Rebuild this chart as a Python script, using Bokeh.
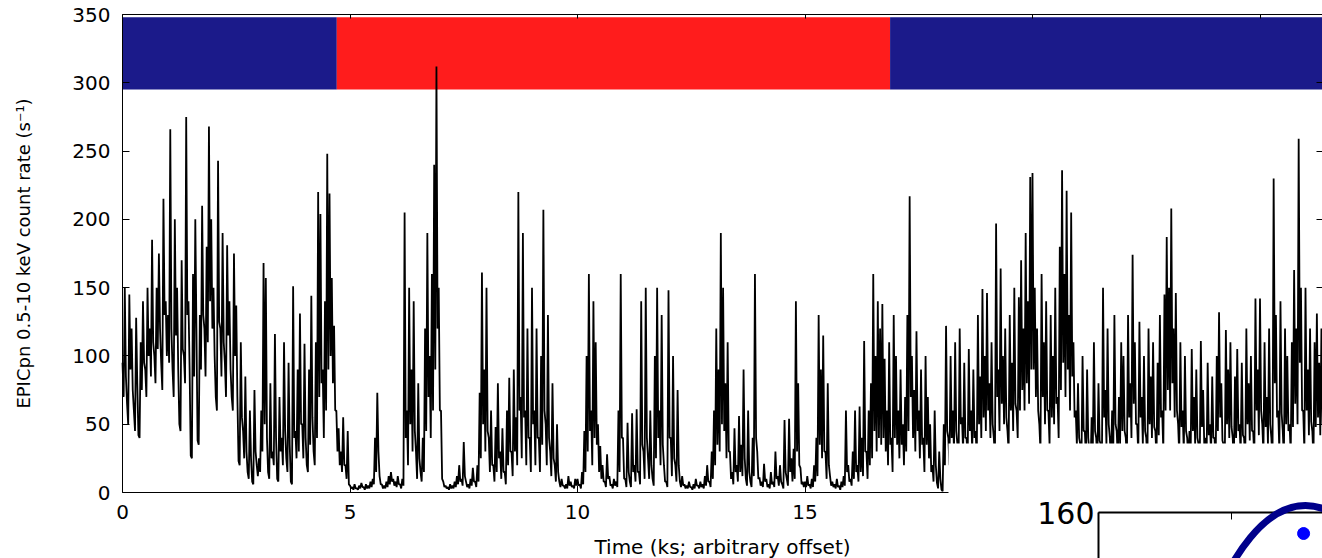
import math
import numpy as np
from bokeh.plotting import figure
from bokeh.models import LinearAxis, Range1d, FixedTicker
from bokeh.embed import file_html
from bokeh.resources import INLINE

# ---------------- data ----------------
BIN_KS = 0.05  # light-curve bin width (ks)

# highest count rate in each bin (s^-1)
rate_peak_00_05ks = [
    95, 150, 65, 145, 120, 60, 128, 42, 110, 140, 90, 150, 120, 185, 100, 150, 175, 95, 215, 140,
    130, 266, 90, 200, 150, 50, 170, 100, 275, 140, 27, 160, 200, 38, 130, 210, 120, 180, 268, 200,
    150, 70, 243, 120, 190, 95, 181, 140, 70, 175, 137, 23, 110, 45, 85, 15, 60, 8, 75, 20,
    25, 60, 168, 157, 15, 80, 30, 116, 10, 70, 40, 110, 25, 95, 8, 151, 45, 90, 131, 50,
    109, 20, 90, 144, 30, 110, 220, 204, 90, 140, 248, 219, 157, 122, 60, 47, 30, 55, 20, 45,
]
rate_peak_05_10ks = [
    5, 4, 6, 3, 5, 7, 4, 6, 5, 8, 10, 40, 73, 12, 6, 5, 8, 12, 15, 10,
    8, 12, 6, 10, 205, 60, 150, 90, 140, 30, 80, 15, 40, 120, 190, 100, 160, 240, 312, 150,
    60, 8, 5, 4, 6, 5, 8, 12, 20, 10, 37, 8, 6, 10, 18, 8, 20, 73, 161, 90,
    150, 40, 60, 20, 48, 80, 30, 47, 15, 60, 84, 30, 90, 55, 220, 70, 190, 60, 120, 40,
    150, 60, 120, 40, 100, 207, 50, 130, 30, 80, 20, 50, 8, 10, 5, 6, 12, 8, 5, 10,
]
rate_peak_10_15ks = [
    10, 6, 15, 45, 100, 160, 60, 140, 110, 50, 34, 20, 8, 28, 12, 6, 10, 8, 60, 160,
    40, 10, 51, 8, 58, 20, 61, 15, 140, 30, 150, 25, 60, 10, 100, 150, 60, 130, 20, 8,
    148, 40, 100, 20, 75, 8, 12, 6, 5, 8, 4, 6, 10, 5, 8, 6, 12, 20, 8, 30,
    60, 120, 90, 190, 150, 80, 110, 30, 15, 47, 20, 56, 35, 90, 10, 60, 8, 40, 160, 30,
    11, 8, 21, 10, 6, 15, 8, 30, 12, 20, 6, 53, 10, 54, 25, 32, 140, 80, 18, 8,
]
rate_peak_15_20ks = [
    8, 12, 6, 10, 20, 40, 130, 90, 115, 30, 80, 12, 8, 6, 10, 5, 8, 12, 60, 20,
    10, 30, 60, 20, 63, 40, 111, 30, 60, 80, 160, 100, 140, 120, 138, 98, 60, 110, 40, 130,
    100, 60, 90, 50, 70, 130, 217, 100, 75, 118, 60, 90, 40, 100, 70, 50, 20, 60, 7, 30,
    2, 50, 122, 40, 100, 60, 110, 35, 120, 55, 95, 40, 105, 60, 90, 45, 130, 85, 149, 100,
    146, 80, 110, 40, 197, 90, 164, 100, 120, 45, 130, 95, 150, 60, 143, 170, 120, 190, 140, 231,
]
rate_peak_20_25ks = [
    234, 150, 120, 50, 160, 110, 140, 60, 130, 100, 150, 70, 180, 236, 160, 221, 130, 205, 110, 60,
    80, 35, 100, 45, 90, 30, 55, 110, 40, 80, 35, 150, 75, 120, 40, 60, 130, 45, 70, 110,
    100, 40, 130, 80, 174, 110, 50, 125, 70, 100, 40, 120, 85, 110, 45, 95, 130, 60, 145, 187,
    150, 208, 120, 146, 50, 110, 60, 100, 40, 45, 105, 70, 90, 35, 111, 75, 40, 95, 50, 85,
    40, 100, 132, 80, 35, 119, 90, 110, 40, 85, 105, 50, 95, 40, 120, 80, 100, 45, 142, 90,
]
rate_peak_25_end = [
    142, 50, 110, 70, 120, 40, 230, 130, 60, 140, 45, 120, 100, 50, 110, 163, 120, 259, 150, 60,
    150, 90, 120, 45, 110, 131, 95, 120, 100, 130,
]

# lowest count rate in each bin (s^-1)
rate_min_00_05ks = [
    70, 85, 50, 90, 75, 45, 80, 40, 75, 95, 70, 100, 85, 110, 80, 105, 120, 75, 130, 100,
    95, 120, 70, 115, 90, 45, 105, 80, 130, 90, 25, 85, 120, 35, 90, 130, 85, 110, 140, 120,
    100, 60, 125, 85, 110, 70, 115, 90, 60, 100, 70, 20, 55, 25, 30, 10, 25, 6, 30, 12,
    15, 30, 50, 40, 10, 25, 20, 40, 8, 30, 20, 45, 15, 35, 6, 40, 25, 30, 50, 25,
    40, 15, 35, 55, 20, 40, 70, 80, 40, 60, 90, 100, 80, 60, 30, 20, 15, 20, 10, 6,
]
rate_min_05_10ks = [
    3, 2, 3, 2, 3, 4, 2, 3, 3, 4, 6, 15, 30, 6, 3, 3, 4, 6, 8, 5,
    4, 6, 3, 5, 40, 20, 50, 30, 45, 10, 25, 8, 15, 45, 70, 40, 60, 90, 120, 60,
    10, 4, 3, 2, 3, 3, 4, 6, 8, 5, 12, 4, 3, 5, 8, 4, 8, 25, 50, 30,
    45, 15, 20, 8, 15, 25, 10, 15, 6, 20, 30, 12, 30, 20, 60, 25, 55, 20, 40, 15,
    50, 20, 40, 15, 35, 60, 20, 40, 12, 25, 8, 15, 4, 5, 3, 3, 5, 4, 3, 5,
]
rate_min_10_15ks = [
    5, 3, 6, 15, 30, 45, 20, 40, 35, 15, 10, 8, 4, 10, 5, 3, 5, 4, 15, 40,
    10, 4, 15, 4, 15, 8, 15, 6, 35, 10, 40, 10, 20, 5, 25, 40, 20, 35, 8, 4,
    40, 12, 25, 8, 20, 4, 5, 3, 3, 4, 2, 3, 5, 3, 4, 3, 5, 8, 4, 10,
    20, 35, 30, 50, 45, 25, 30, 10, 6, 15, 8, 15, 12, 25, 5, 15, 4, 12, 40, 10,
    5, 4, 8, 4, 3, 6, 4, 10, 5, 8, 3, 15, 5, 15, 8, 10, 30, 20, 6, 4,
]
rate_min_15_20ks = [
    4, 5, 3, 4, 8, 12, 35, 25, 30, 10, 20, 5, 4, 3, 4, 2, 4, 5, 15, 8,
    5, 10, 15, 8, 15, 12, 30, 10, 20, 25, 45, 30, 40, 35, 40, 30, 20, 35, 15, 40,
    35, 25, 35, 20, 30, 45, 70, 40, 30, 45, 25, 35, 15, 35, 25, 15, 8, 20, 3, 10,
    1, 20, 45, 20, 40, 30, 45, 20, 50, 30, 40, 25, 45, 30, 40, 25, 50, 40, 55, 45,
    60, 40, 50, 25, 70, 45, 65, 50, 55, 30, 60, 45, 65, 40, 60, 75, 60, 80, 65, 90,
]
rate_min_20_25ks = [
    90, 70, 60, 30, 70, 50, 60, 35, 55, 50, 65, 40, 75, 95, 70, 90, 60, 85, 55, 35,
    40, 20, 45, 25, 40, 18, 30, 45, 22, 38, 20, 55, 35, 50, 22, 30, 50, 25, 35, 45,
    45, 25, 55, 40, 65, 50, 28, 55, 35, 45, 22, 50, 40, 48, 25, 42, 55, 30, 60, 75,
    60, 80, 55, 60, 28, 48, 30, 45, 22, 25, 45, 35, 40, 20, 48, 35, 22, 42, 28, 40,
    22, 45, 55, 38, 20, 50, 40, 48, 22, 40, 45, 28, 42, 22, 50, 38, 45, 25, 60, 42,
]
rate_min_25_end = [
    60, 28, 48, 35, 50, 22, 80, 55, 30, 58, 25, 50, 45, 28, 48, 65, 50, 95, 60, 30,
    60, 42, 52, 25, 48, 55, 42, 50, 45, 55,
]

# observation states shown as the bar across the top
state_start = [0.0, 4.71, 16.87]
state_end = [4.71, 16.87, 26.5]
state_colors = ["#1b1a8a", "#ff1c1c", "#1b1a8a"]

# inset: fragment of a second panel (best-fit point and confidence contour)
inset_yticks = [160]
inset_xticks = [0, 50, 100]
best_x = [77.1]
best_y = [152.1]
contour_x = [77.8]
contour_y = [-10.3]
contour_w = [112.8]
contour_h = [345.9]
contour_angle = [0.0]

rate_peak = (rate_peak_00_05ks + rate_peak_05_10ks + rate_peak_10_15ks +
             rate_peak_15_20ks + rate_peak_20_25ks + rate_peak_25_end)
rate_min = (rate_min_00_05ks + rate_min_05_10ks + rate_min_10_15ks +
            rate_min_15_20ks + rate_min_20_25ks + rate_min_25_end)

# each bin: its peak then its minimum, half a bin apart
t_bins = np.arange(len(rate_peak)) * BIN_KS
curve_t = np.column_stack([t_bins, t_bins + BIN_KS / 2]).ravel().tolist()
curve_r = np.column_stack([rate_peak, rate_min]).ravel().tolist()

# ---------------- layout geometry (picture pixels) ----------------
W, H = 1322, 558
X0_PX, PX_PER_KS = 122, 45.5          # time 0 and scale
Y0_PX, Y350_PX = 492, 14              # rate 0 and rate 350
PX_PER_RATE = (Y0_PX - Y350_PX) / 350.0
x_start = -X0_PX / PX_PER_KS
x_end = (W - X0_PX) / PX_PER_KS
y_end = 350 + Y350_PX / PX_PER_RATE
y_start = -(H - Y0_PX) / PX_PER_RATE
X_AXIS_END = (948 - X0_PX) / PX_PER_KS

# inset placement
INSET_PPU = 2.66
INSET_L_PX, INSET_T_PX = 1098, 512
INSET_X0, INSET_Y0 = 0.0, 160.0
ix_start = INSET_X0 - INSET_L_PX / INSET_PPU
ix_end = INSET_X0 + (W - INSET_L_PX) / INSET_PPU
iy_start = INSET_Y0 - (H - INSET_T_PX) / INSET_PPU
iy_end = INSET_Y0 + INSET_T_PX / INSET_PPU
box_left = INSET_X0 - (INSET_L_PX - 948) / INSET_PPU
box_top = INSET_Y0 + (INSET_T_PX - 443) / INSET_PPU

FONT = "DejaVu Sans"

p = figure(width=W, height=H, output_backend="svg", toolbar_location=None,
           x_range=Range1d(x_start, x_end), y_range=Range1d(y_start, y_end),
           x_axis_location=None, y_axis_location=None,
           min_border=0, min_border_left=0, min_border_right=0,
           min_border_top=0, min_border_bottom=0)
p.outline_line_color = None
p.grid.visible = False
p.background_fill_color = "white"
p.border_fill_color = "white"

p.extra_x_ranges = {"ix": Range1d(ix_start, ix_end)}
p.extra_y_ranges = {"iy": Range1d(iy_start, iy_end)}

# state bar
p.quad(left=state_start, right=state_end, bottom=295, top=348,
       fill_color=state_colors, line_color=None)

# light curve
p.line(curve_t, curve_r, line_color="black", line_width=1.8)

# inset background
p.quad(left=[box_left], right=[ix_end + 10], bottom=[iy_start - 10], top=[box_top],
       fill_color="white", line_color=None, x_range_name="ix", y_range_name="iy")

# inset content
p.ellipse(x=contour_x, y=contour_y, width=contour_w, height=contour_h, angle=contour_angle,
          fill_color=None, line_color="#00008b", line_width=7,
          x_range_name="ix", y_range_name="iy", level="annotation")
p.scatter(x=best_x, y=best_y, size=12, fill_color="#0000ff", line_color="#0000ff",
          x_range_name="ix", y_range_name="iy", level="annotation")


def style(ax, size="20px"):
    ax.major_label_text_font = FONT
    ax.major_label_text_font_size = size
    ax.major_label_text_color = "black"
    ax.axis_label_text_font = FONT
    ax.axis_label_text_font_style = "normal"
    ax.axis_label_text_font_size = "20px"
    ax.axis_label_text_color = "black"
    ax.axis_line_color = "black"
    ax.major_tick_line_color = "black"
    ax.minor_tick_line_color = None
    ax.major_tick_out = 0


# main left axis
yax = LinearAxis(ticker=FixedTicker(ticks=[0, 50, 100, 150, 200, 250, 300, 350]),
                 bounds=(0, 350), fixed_location=0,
                 axis_label="EPICpn 0.5-10 keV count rate (s\u207b\u00b9)")
style(yax)
yax.axis_label_text_font_size = "18px"
yax.major_tick_in = 7
yax.major_label_standoff = 12
yax.axis_label_standoff = 35
p.add_layout(yax, "left")

# main bottom axis (line, ticks, labels)
xax = LinearAxis(ticker=FixedTicker(ticks=[0, 5, 10, 15]), bounds=(0, X_AXIS_END), fixed_location=0)
style(xax)
xax.major_tick_in = 7
xax.major_label_standoff = 12
p.add_layout(xax, "below")

# bottom axis title (centred on the full time range)
xlab = LinearAxis(ticker=FixedTicker(ticks=[0, 5, 10, 15]), fixed_location=0,
                  bounds=(0, 26.5), axis_label="Time (ks; arbitrary offset)")
style(xlab)
xlab.axis_line_color = None
xlab.major_tick_line_color = None
xlab.major_label_text_alpha = 0
xlab.axis_label_standoff = 42
p.add_layout(xlab, "below")

# top frame with ticks
tax = LinearAxis(ticker=FixedTicker(ticks=[0, 5, 10, 15, 20, 25]), fixed_location=350,
                 bounds=(0, 26.5))
style(tax)
tax.major_tick_in = 4
tax.major_label_text_color = None
p.add_layout(tax, "above")

# right-side ticks
rax = LinearAxis(ticker=FixedTicker(ticks=[50, 100, 150, 200, 250, 300, 350]), fixed_location=x_end)
style(rax)
rax.axis_line_color = None
rax.major_tick_in = 6
rax.major_label_text_color = None
p.add_layout(rax, "right")

# inset axes
iyax = LinearAxis(x_range_name="ix", y_range_name="iy", fixed_location=INSET_X0,
                  ticker=FixedTicker(ticks=inset_yticks), bounds=(iy_start - 10, INSET_Y0))
style(iyax, size="30px")
iyax.axis_line_width = 2
iyax.major_tick_in = 0
iyax.major_label_standoff = 4
p.add_layout(iyax, "left")

ixax = LinearAxis(x_range_name="ix", y_range_name="iy", fixed_location=INSET_Y0,
                  ticker=FixedTicker(ticks=inset_xticks), bounds=(INSET_X0, ix_end + 10))
style(ixax)
ixax.axis_line_width = 2
ixax.major_tick_in = 7
ixax.major_tick_line_width = 1
ixax.major_label_text_color = None
p.add_layout(ixax, "above")

open("out.html", "w").write(file_html(p, INLINE))
